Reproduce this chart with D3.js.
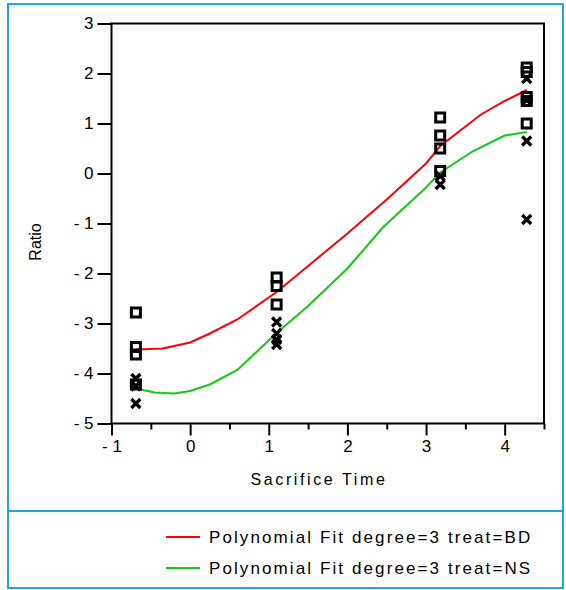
<!DOCTYPE html>
<html>
<head>
<meta charset="utf-8">
<script src="https://cdn.jsdelivr.net/npm/d3@7"></script>
<style>
  body { margin: 0; background: #fff; }
  svg text { font-family: "Liberation Sans", Arial, sans-serif; fill: #000; }
</style>
</head>
<body>
<svg id="chart" width="566" height="590"></svg>
<script>
// sacrifice time (log scale) for each group
var bdTime  = [-0.69, -0.69, -0.69, -0.69, 1.10, 1.10, 1.10, 3.18, 3.18, 3.18, 3.18, 4.28, 4.28, 4.28, 4.28, 4.28];
var bdRatio = [-2.78, -3.47, -3.62, -4.22, -2.08, -2.25, -2.62, 1.12, 0.76, 0.50, 0.05, 2.12, 2.03, 1.53, 1.45, 1.00];

var nsTime  = [-0.69, -0.69, -0.69, 1.10, 1.10, 1.10, 1.10, 3.18, 3.18, 4.28, 4.28, 4.28, 4.28];
var nsRatio = [-4.10, -4.25, -4.60, -2.97, -3.20, -3.32, -3.42, -0.05, -0.22, 1.90, 1.47, 0.65, -0.92];

// fitted curves
var bdFitX = [-0.69, -0.35, 0.00, 0.25, 0.60, 1.10, 1.50, 2.00, 2.50, 3.00, 3.18, 3.70, 4.00, 4.28];
var bdFitY = [-3.52, -3.50, -3.38, -3.20, -2.92, -2.37, -1.85, -1.20, -0.52, 0.20, 0.55, 1.18, 1.45, 1.67];
var nsFitX = [-0.69, -0.45, -0.20, 0.00, 0.25, 0.60, 1.10, 1.50, 2.00, 2.45, 3.00, 3.18, 3.60, 4.00, 4.28];
var nsFitY = [-4.30, -4.38, -4.40, -4.35, -4.22, -3.93, -3.19, -2.65, -1.90, -1.08, -0.28, 0.02, 0.45, 0.76, 0.83];

var xMajor = [-1, 0, 1, 2, 3, 4];
var xMinor = [-0.5, 0.5, 1.5, 2.5, 3.5, 4.5];
var yTicks = [-5, -4, -3, -2, -1, 0, 1, 2, 3];

var legendNames = ["Polynomial Fit degree=3 treat=BD", "Polynomial Fit degree=3 treat=NS"];
var colors = ["#ff0000", "#11cc11"];

var svg = d3.select("#chart");
var plotL = 111.5, plotR = 544, plotT = 23.5, plotB = 423.5;

var x = d3.scaleLinear().domain([-1, 4.5]).range([plotL, plotR]);
var y = d3.scaleLinear().domain([-5, 3]).range([plotB, plotT]);

// outer frame + legend divider
svg.append("rect").attr("x", 8).attr("y", 4).attr("width", 555).attr("height", 584)
  .attr("fill", "none").attr("stroke", "#1ea5e6").attr("stroke-width", 2);
svg.append("line").attr("x1", 8).attr("x2", 563).attr("y1", 511).attr("y2", 511)
  .attr("stroke", "#1ea5e6").attr("stroke-width", 2);

// axes
var fmt = function(d) { return d < 0 ? "- " + (-d) : "" + d; };

svg.append("g").attr("transform", "translate(0," + plotB + ")")
  .call(d3.axisBottom(x).tickValues(xMajor).tickSize(12).tickPadding(4).tickFormat(fmt));
svg.append("g").attr("transform", "translate(0," + plotB + ")")
  .call(d3.axisBottom(x).tickValues(xMinor).tickSize(6).tickFormat(""));

svg.append("g").attr("transform", "translate(" + plotL + ",0)")
  .call(d3.axisLeft(y).tickValues(yTicks).tickSize(14).tickPadding(4).tickFormat(fmt));

svg.selectAll(".domain").remove();
svg.selectAll(".tick line").attr("stroke", "#000").attr("stroke-width", 2);
svg.selectAll(".tick text").attr("font-size", 17).attr("fill", "#000")
  .style("font-family", "'Liberation Sans', Arial, sans-serif");

// plot box
svg.append("rect").attr("x", plotL).attr("y", plotT).attr("width", plotR - plotL).attr("height", plotB - plotT)
  .attr("fill", "none").attr("stroke", "#000").attr("stroke-width", 2);

// titles
svg.append("text").attr("x", 319).attr("y", 485).attr("text-anchor", "middle")
  .attr("font-size", 16).attr("letter-spacing", 2.6).text("Sacrifice Time");
svg.append("text").attr("transform", "translate(41,242) rotate(-90)").attr("text-anchor", "middle")
  .attr("font-size", 16).text("Ratio");

// fit lines
var line = d3.line().x(function(d) { return x(d[0]); }).y(function(d) { return y(d[1]); });
svg.append("path").datum(d3.zip(bdFitX, bdFitY)).attr("d", line)
  .attr("fill", "none").attr("stroke", colors[0]).attr("stroke-width", 2);
svg.append("path").datum(d3.zip(nsFitX, nsFitY)).attr("d", line)
  .attr("fill", "none").attr("stroke", colors[1]).attr("stroke-width", 2);

// markers
var sq = 9;
svg.append("g").selectAll("rect").data(d3.zip(bdTime, bdRatio)).join("rect")
  .attr("x", function(d) { return x(d[0]) - sq / 2; })
  .attr("y", function(d) { return y(d[1]) - sq / 2; })
  .attr("width", sq).attr("height", sq)
  .attr("fill", "none").attr("stroke", "#000").attr("stroke-width", 3);

var cr = 4.5;
svg.append("g").selectAll("path").data(d3.zip(nsTime, nsRatio)).join("path")
  .attr("d", function(d) {
    var cx = x(d[0]), cy = y(d[1]);
    return "M" + (cx - cr) + "," + (cy - cr) + "L" + (cx + cr) + "," + (cy + cr) +
           "M" + (cx - cr) + "," + (cy + cr) + "L" + (cx + cr) + "," + (cy - cr);
  })
  .attr("stroke", "#000").attr("stroke-width", 3.2).attr("fill", "none");

// legend
var lg = svg.append("g").selectAll("g").data(legendNames).join("g")
  .attr("transform", function(d, i) { return "translate(166," + (537 + i * 31) + ")"; });
lg.append("line").attr("x1", 0).attr("x2", 34)
  .attr("stroke", function(d, i) { return colors[i]; }).attr("stroke-width", 2);
lg.append("text").attr("x", 43).attr("y", 6).attr("font-size", 17).attr("letter-spacing", 2.1)
  .text(function(d) { return d; });
</script>
</body>
</html>
